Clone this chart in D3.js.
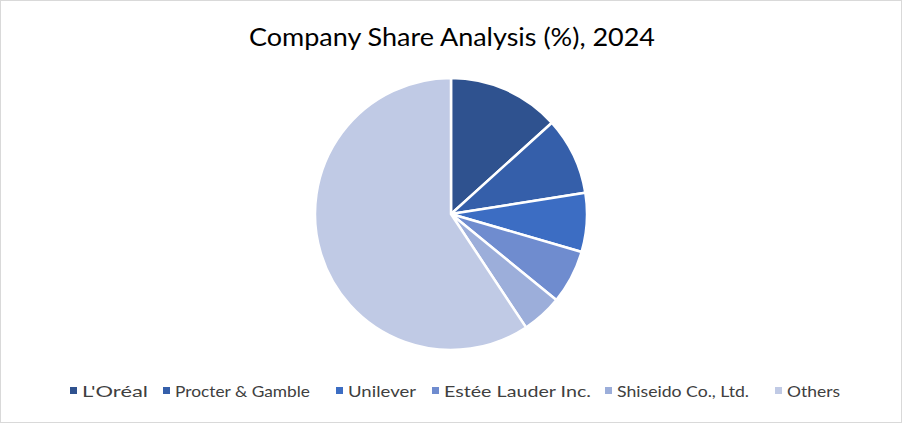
<!DOCTYPE html>
<html><head><meta charset="utf-8">
<script src="https://cdn.jsdelivr.net/npm/d3@7"></script>
<style>body{margin:0;background:#fff}svg{display:block}</style>
</head><body><svg id="c" width="902" height="423"></svg>
<script>
const categories = ["L'Oréal","Procter & Gamble","Unilever","Estée Lauder Inc.","Shiseido Co., Ltd.","Others"];
const values = [13.3, 9.2, 7.0, 6.4, 4.8, 59.3];
const colors = ["#2F528F","#355FAA","#3C6DC3","#6F8CCF","#9CAEDA","#C0CAE5"];
const svg = d3.select("#c");
svg.append("rect").attr("x",0.5).attr("y",0.5).attr("width",901).attr("height",422).attr("fill","#fff").attr("stroke","#d9d9d9");
svg.append("text").attr("x",452).attr("y",46).attr("text-anchor","middle")
  .attr("font-family","Lato, sans-serif").attr("font-size",25).attr("fill","#000")
  .attr("textLength",406).attr("lengthAdjust","spacingAndGlyphs")
  .text("Company Share Analysis (%), 2024");
const pie = d3.pie().sort(null).value(d=>d)(values);
const arc = d3.arc().innerRadius(0).outerRadius(136);
const g = svg.append("g").attr("transform","translate(451,214)");
g.selectAll("path").data(pie).join("path").attr("d",arc)
  .attr("fill",(d,i)=>colors[i]).attr("stroke","#fff").attr("stroke-width",2.5);
const legX=[70,163,336,432,605,775];
const legW=[66,135,68,147,132,53];
const lg = svg.append("g");
categories.forEach((c,i)=>{
  lg.append("rect").attr("x",legX[i]).attr("y",387).attr("width",7).attr("height",7).attr("fill",colors[i]);
  lg.append("text").attr("x",legX[i]+12).attr("y",397).attr("font-family","Lato, sans-serif")
    .attr("font-size",16).attr("fill","#404040")
    .attr("textLength",legW[i]).attr("lengthAdjust","spacingAndGlyphs").text(c);
});
</script></body></html>
